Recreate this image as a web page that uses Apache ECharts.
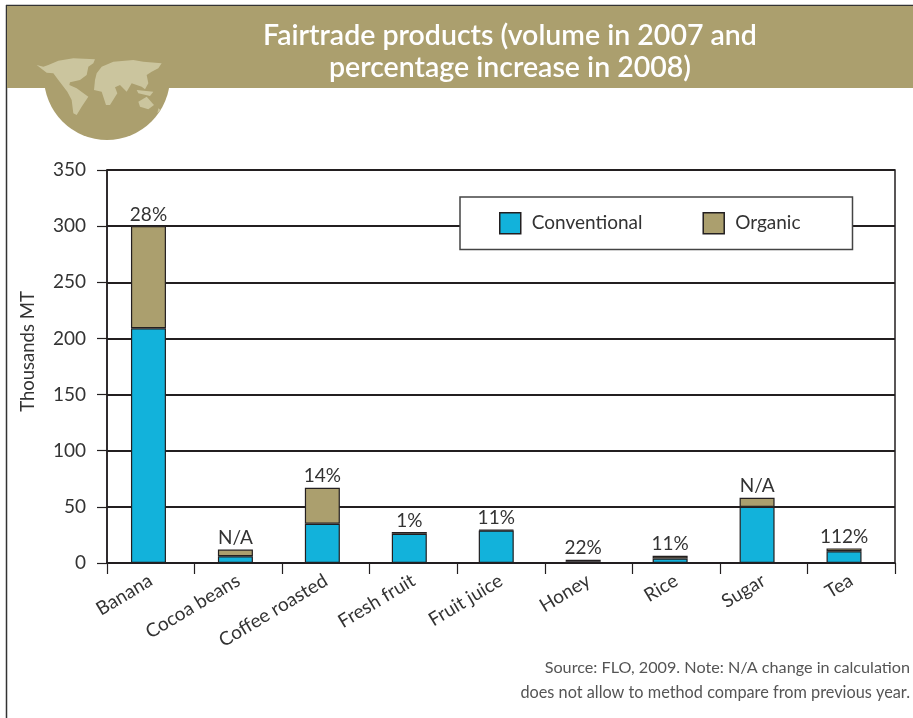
<!DOCTYPE html>
<html><head><meta charset="utf-8">
<style>html,body{margin:0;padding:0;background:#fff}#c{width:913px;height:718px}</style>
<script src="https://cdn.jsdelivr.net/npm/echarts@6/dist/echarts.min.js"></script>
</head><body><div id="c"></div>
<script>
const categories = ['Banana','Cocoa beans','Coffee roasted','Fresh fruit','Fruit juice','Honey','Rice','Sugar','Tea'];
const conventional = [209, 6, 35, 26, 29, 1.5, 4, 50, 10.5];
const organic = [91, 6, 32, 1.5, 0.5, 1.5, 2.5, 8, 2.5];
const changeLabels = ['28%','N/A','14%','1%','11%','22%','11%','N/A','112%'];
const yTicks = {min:0, max:350, interval:50};

const INK='#231f20', TAN='#ab9f6e', BLUE='#12b2db', FONT='Lato, "Open Sans", sans-serif';
const land=[
 [[20,45],[40,50],[55,45],[85,32],[130,25],[195,28],[190,40],[175,50],[170,75],[150,90],[120,97],[118,105],[140,115],[175,140],[155,170],[140,195],[130,190],[125,150],[112,125],[85,90],[70,70],[50,68]],
 [[200,70],[215,50],[250,35],[310,30],[340,35],[395,40],[385,55],[365,65],[350,75],[355,100],[345,118],[335,110],[305,100],[290,125],[270,105],[255,112],[262,130],[240,165],[228,165],[215,125],[192,120],[195,90]],
 [[320,120],[370,125],[360,138],[325,130]],
 [[325,155],[350,140],[372,165],[355,178],[330,170]],
 [[385,175],[392,180],[382,190]]
];
const chart=echarts.init(document.getElementById('c'));
chart.setOption({
 animation:false,
 backgroundColor:'#fff',
 textStyle:{fontFamily:FONT,color:'#333'},
 graphic:{elements:[
  {type:'line',z:0,shape:{x1:6.5,y1:5,x2:6.5,y2:718},style:{stroke:'#333',lineWidth:1.5}},
  {type:'line',z:0,shape:{x1:6,y1:5.5,x2:913,y2:5.5},style:{stroke:'#333',lineWidth:1.5}},
  {type:'circle',z:1,shape:{cx:107,cy:77,r:63},style:{fill:TAN}},
  {type:'rect',z:1,shape:{x:7,y:6,width:906,height:82},style:{fill:TAN}},
  ...land.map(p=>({type:'polygon',z:2,shape:{points:p.map(q=>[30+q[0]/3,50+q[1]/3])},style:{fill:'#cbc59e'}})),
  {type:'text',z:3,style:{text:'Fairtrade products (volume in 2007 and',x:510,y:36,align:'center',verticalAlign:'middle',fill:'#fff',font:'600 28.5px '+FONT}},
  {type:'text',z:3,style:{text:'percentage increase in 2008)',x:510,y:68,align:'center',verticalAlign:'middle',fill:'#fff',font:'600 28.5px '+FONT}},
  {type:'text',z:3,style:{text:'Source: FLO, 2009. Note: N/A change in calculation',x:910,y:668,align:'right',verticalAlign:'middle',fill:'#555',font:'16.2px '+FONT}},
  {type:'text',z:3,style:{text:'does not allow to method compare from previous year.',x:910,y:693,align:'right',verticalAlign:'middle',fill:'#555',font:'16.3px '+FONT}}
 ]},
 legend:{
  left:460,top:197,orient:'horizontal',
  data:['Conventional','Organic'],
  icon:'rect',
  itemWidth:21,itemHeight:21,itemGap:60,
  padding:[15,52,15,39],
  backgroundColor:'#fff',borderColor:'#444',borderWidth:1.5,
  textStyle:{fontSize:19,color:'#333',fontFamily:FONT,padding:[0,0,0,6]},
  itemStyle:{borderColor:INK,borderWidth:1.5}
 },
 grid:[
  {left:107,top:170,width:788,height:393,show:true,borderColor:INK,borderWidth:1.5,backgroundColor:'transparent',outerBoundsMode:'none',containLabel:false},
  {left:105,top:170,width:782.5,height:393,outerBoundsMode:'none',containLabel:false}
 ],
 xAxis:[
  {type:'category',gridIndex:0,data:categories,
   axisLine:{show:true,lineStyle:{color:INK,width:1.5}},axisTick:{show:true,length:11,lineStyle:{color:INK,width:1.2}},splitLine:{show:false},
   axisLabel:{rotate:31,fontSize:19,color:'#333',margin:16,interval:0,fontFamily:FONT,hideOverlap:false}},
  {type:'category',gridIndex:1,data:categories,axisLine:{show:false},axisTick:{show:false},axisLabel:{show:false}}
 ],
 yAxis:[
  {type:'value',gridIndex:0,min:yTicks.min,max:yTicks.max,interval:yTicks.interval,
   name:'Thousands MT',nameLocation:'middle',nameGap:69,nameTextStyle:{fontSize:18.5,color:'#333',fontFamily:FONT,padding:[0,0,0,30]},
   axisLine:{show:true,lineStyle:{color:INK,width:1.5}},
   axisTick:{show:true,length:10,lineStyle:{color:INK,width:1.2}},
   axisLabel:{fontSize:19,color:'#333',margin:21,fontFamily:FONT},
   splitLine:{show:true,lineStyle:{color:INK,width:2}}},
  {type:'value',gridIndex:1,min:yTicks.min,max:yTicks.max,interval:yTicks.interval,show:false,splitLine:{show:false}}
 ],
 series:[
  {name:'Conventional',type:'bar',xAxisIndex:1,yAxisIndex:1,stack:'v',barWidth:35,data:conventional,z:3,
   itemStyle:{color:BLUE,borderColor:INK,borderWidth:1.2}},
  {name:'Organic',type:'bar',xAxisIndex:1,yAxisIndex:1,stack:'v',barWidth:35,data:organic,z:3,
   itemStyle:{color:TAN,borderColor:INK,borderWidth:1.2},
   label:{show:true,position:'top',distance:2,fontSize:19,color:'#333',fontFamily:FONT,
    formatter:p=>changeLabels[p.dataIndex]}}
 ]
});
</script></body></html>
